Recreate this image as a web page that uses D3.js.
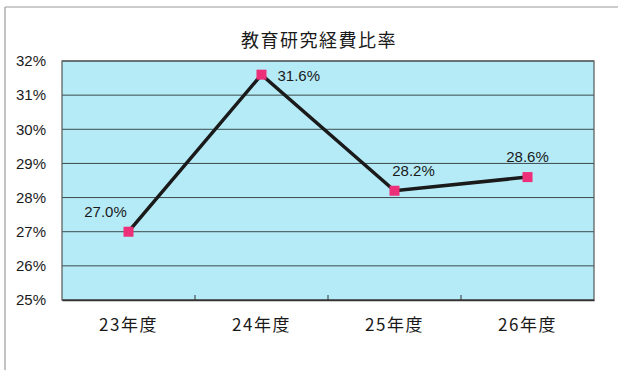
<!DOCTYPE html>
<html><head><meta charset="utf-8">
<script src="https://cdn.jsdelivr.net/npm/d3@7"></script>
<style>html,body{margin:0;padding:0;background:#fff;}svg{display:block;}</style>
</head><body>
<svg id="chart" width="618" height="370"></svg>
<script>
const title = "教育研究経費比率";
const categories = ["23年度", "24年度", "25年度", "26年度"];
const values = [27.0, 31.6, 28.2, 28.6];
const yTicks = [25, 26, 27, 28, 29, 30, 31, 32];
const labelPos = ["left", "right", "above", "above"];

const svg = d3.select("#chart");
const W = 618, H = 370;
const m = {left: 62, right: 24, top: 61, bottom: 70};
const pw = W - m.left - m.right, ph = H - m.top - m.bottom;

// outer frame
svg.append("line").attr("x1", 5).attr("y1", 7).attr("x2", 618).attr("y2", 7).attr("stroke", "#999").attr("stroke-width", 1.2);
svg.append("line").attr("x1", 5).attr("y1", 7).attr("x2", 5).attr("y2", 370).attr("stroke", "#999").attr("stroke-width", 1.2);

const x = d3.scaleBand().domain(categories).range([m.left, m.left + pw]).padding(0);
const y = d3.scaleLinear().domain([25, 32]).range([m.top + ph, m.top]);

svg.append("rect").attr("x", m.left).attr("y", m.top).attr("width", pw).attr("height", ph)
  .attr("fill", "#b5ebf7");

// gridlines
svg.append("g").selectAll("line").data(yTicks).join("line")
  .attr("x1", m.left).attr("x2", m.left + pw)
  .attr("y1", d => y(d)).attr("y2", d => y(d))
  .attr("stroke", "#3a4a4c").attr("stroke-width", 1);

svg.append("rect").attr("x", m.left).attr("y", m.top).attr("width", pw).attr("height", ph)
  .attr("fill", "none").attr("stroke", "#555").attr("stroke-width", 1.2);

// y axis labels
const yAxis = d3.axisLeft(y).tickValues(yTicks).tickFormat(d => d + "%").tickSize(0).tickPadding(16);
const yg = svg.append("g").attr("transform", `translate(${m.left},0)`).call(yAxis);
yg.select(".domain").remove();
yg.selectAll("text").attr("font-family", "Liberation Sans, Arial, sans-serif").attr("font-size", 15).attr("fill", "#1a1a1a");

// x axis
const xAxis = d3.axisBottom(x).tickSize(0).tickPadding(19);
const xg = svg.append("g").attr("transform", `translate(0,${m.top + ph})`).call(xAxis);
xg.select(".domain").attr("stroke", "#333").attr("stroke-width", 1.5);
xg.selectAll("text").attr("font-family", "Noto Sans CJK JP, sans-serif").attr("font-size", 17)
  .attr("letter-spacing", 1.5).attr("fill", "#1a1a1a");
// category boundary ticks (inward)
svg.append("g").selectAll("line").data(categories.slice(1)).join("line")
  .attr("x1", d => x(d)).attr("x2", d => x(d))
  .attr("y1", m.top + ph).attr("y2", m.top + ph - 5)
  .attr("stroke", "#333").attr("stroke-width", 1);

// title
svg.append("text").attr("x", 319).attr("y", 47).attr("text-anchor", "middle")
  .attr("font-family", "Noto Sans CJK JP, sans-serif").attr("font-size", 18).attr("letter-spacing", 1.5)
  .attr("fill", "#1a1a1a")
  .text(title);

// line
const cx = (d, i) => x(categories[i]) + x.bandwidth() / 2;
const line = d3.line().x((d, i) => cx(d, i)).y(d => y(d));
svg.append("path").datum(values).attr("d", line).attr("fill", "none")
  .attr("stroke", "#1a1a1a").attr("stroke-width", 3.5).attr("stroke-linejoin", "miter");

svg.append("g").selectAll("rect").data(values).join("rect")
  .attr("x", (d, i) => cx(d, i) - 5).attr("y", d => y(d) - 5)
  .attr("width", 10).attr("height", 10).attr("fill", "#ec2f78");

// data labels
svg.append("g").selectAll("text").data(values).join("text")
  .attr("font-family", "Liberation Sans, Arial, sans-serif").attr("font-size", 15).attr("fill", "#1a1a1a")
  .attr("x", (d, i) => labelPos[i] === "left" ? cx(d, i) - 23 : labelPos[i] === "right" ? cx(d, i) + 16 : cx(d, i) + (i === 2 ? 19 : 0))
  .attr("y", (d, i) => labelPos[i] === "right" ? y(d) + 6 : y(d) - 15)
  .attr("text-anchor", (d, i) => labelPos[i] === "right" ? "start" : "middle")
  .text(d => d.toFixed(1) + "%");
</script>
</body></html>
